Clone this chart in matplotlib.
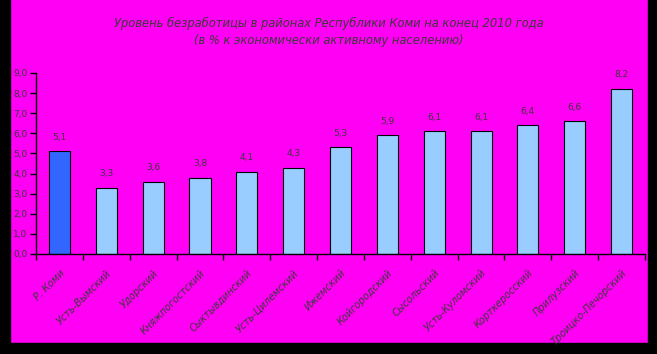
import matplotlib
matplotlib.use("Agg")
import matplotlib.pyplot as plt
from matplotlib.patches import Rectangle
import numpy as np

# unemployment by district, end of 2010 (% of economically active population)
districts = ["Р. Коми", "Усть-Вымский", "Удорский", "Княжпогостский",
             "Сыктывдинский", "Усть-Цилемский", "Ижемский", "Койгородский",
             "Сысольский", "Усть-Куломский", "Корткеросский", "Прилузский",
             "Троицко-Печорский"]
rates = [5.1, 3.3, 3.6, 3.8, 4.1, 4.3, 5.3, 5.9, 6.1, 6.1, 6.4, 6.6, 8.2]
yticks = [0, 1, 2, 3, 4, 5, 6, 7, 8, 9]

bg = "#FF00F5"
txt = "#3a3a3a"

fig = plt.figure(figsize=(6.57, 3.54), dpi=100, facecolor=bg)
ax = fig.add_axes([0.0548, 0.2825, 0.927, 0.5113])
ax.set_facecolor(bg)

x = np.arange(len(districts))
colors = ["#3366FF"] + ["#99CCFF"] * (len(districts) - 1)
ax.bar(x, rates, width=0.45, color=colors, edgecolor="black", linewidth=0.8)

for xi, v in zip(x, rates):
    ax.annotate(f"{v:.1f}".replace(".", ","), (xi, v), xytext=(0, 7),
                textcoords="offset points", ha="center", va="bottom",
                fontsize=6.5, color=txt)

ax.set_xlim(-0.5, len(districts) - 0.5)
ax.set_ylim(0, 9)
ax.set_yticks(yticks)
ax.set_yticklabels([f"{t:.1f}".replace(".", ",") for t in yticks], fontsize=6.5, color=txt)
ax.tick_params(axis="y", direction="out", length=4, width=1, pad=2)

ax.set_xticks(x)
ax.set_xticklabels(districts, rotation=45, ha="right", rotation_mode="anchor",
                   fontsize=7, color=txt, fontstyle="italic")
ax.tick_params(axis="x", length=0, pad=10)
ax.set_xticks(np.arange(len(districts) + 1) - 0.5, minor=True)
ax.tick_params(axis="x", which="minor", direction="out", length=4, width=1)

for s in ["top", "right"]:
    ax.spines[s].set_visible(False)
for s in ["left", "bottom"]:
    ax.spines[s].set_linewidth(1)

fig.text(0.5, 0.935, "Уровень безработицы в районах Республики Коми на конец 2010 года",
         ha="center", va="center", fontsize=8.3, color=txt, fontstyle="italic")
fig.text(0.5, 0.885, "(в % к экономически активному населению)",
         ha="center", va="center", fontsize=8.3, color=txt, fontstyle="italic")

# black frame on left, right and bottom
fig.patches.append(Rectangle((0, 0), 10 / 657, 1, transform=fig.transFigure, color="black", zorder=-1))
fig.patches.append(Rectangle((648 / 657, 0), 9 / 657, 1, transform=fig.transFigure, color="black", zorder=-1))
fig.patches.append(Rectangle((0, 0), 1, 11 / 354, transform=fig.transFigure, color="black", zorder=-1))

fig.savefig("out.png", dpi=100, facecolor=bg)
